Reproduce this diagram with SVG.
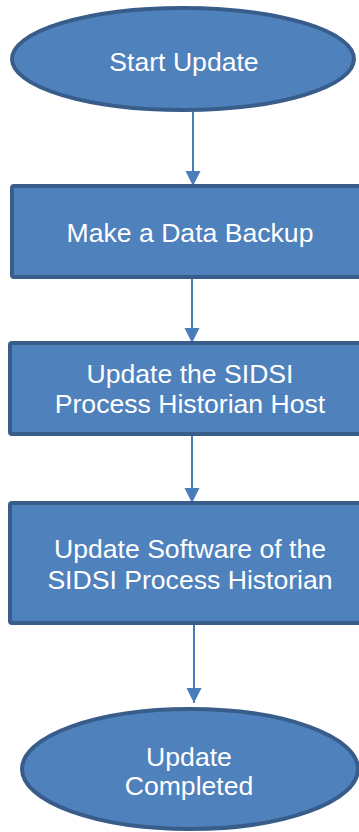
<svg xmlns="http://www.w3.org/2000/svg" width="359" height="832" viewBox="0 0 359 832">
<defs>
<style>
.n{fill:#4F81BD;stroke:#385D8A;stroke-width:4}
.t{fill:#FFFFFF;font-family:"Liberation Sans",Arial,sans-serif;font-size:26.6px;text-anchor:middle}
.c{stroke:#4A7EBB;stroke-width:2;fill:none}
</style>
<marker id="ah2" markerWidth="16" markerHeight="16" refX="15" refY="8" orient="auto" markerUnits="userSpaceOnUse" viewBox="0 0 16 16">
<path d="M0,0.5 L15,8 L0,15.5 Z" fill="#4A7EBB"/>
</marker>
</defs>
<g id="connectors">
<line class="c" x1="193" y1="112" x2="193" y2="186" marker-end="url(#ah2)"/>
<line class="c" x1="192" y1="278" x2="192" y2="343" marker-end="url(#ah2)"/>
<line class="c" x1="192" y1="436" x2="192" y2="503" marker-end="url(#ah2)"/>
<line class="c" x1="194" y1="625" x2="194" y2="703" marker-end="url(#ah2)"/>
</g>
<g id="start">
<ellipse class="n" cx="183" cy="59" rx="171" ry="51"/>
<text class="t" x="184" y="71">Start Update</text>
</g>
<g id="backup">
<rect class="n" x="12" y="186" width="358" height="91" rx="2"/>
<text class="t" x="190" y="242">Make a Data Backup</text>
</g>
<g id="host">
<rect class="n" x="10" y="343" width="362" height="91" rx="2"/>
<text class="t" x="190" y="383">Update the SIDSI</text>
<text class="t" x="190" y="413">Process Historian Host</text>
</g>
<g id="software">
<rect class="n" x="10" y="503" width="362" height="120" rx="2"/>
<text class="t" x="190" y="558">Update Software of the</text>
<text class="t" x="190" y="589">SIDSI Process Historian</text>
</g>
<g id="done">
<ellipse class="n" cx="190" cy="769" rx="168" ry="60"/>
<text class="t" x="189" y="766">Update</text>
<text class="t" x="189" y="795">Completed</text>
</g>
</svg>
